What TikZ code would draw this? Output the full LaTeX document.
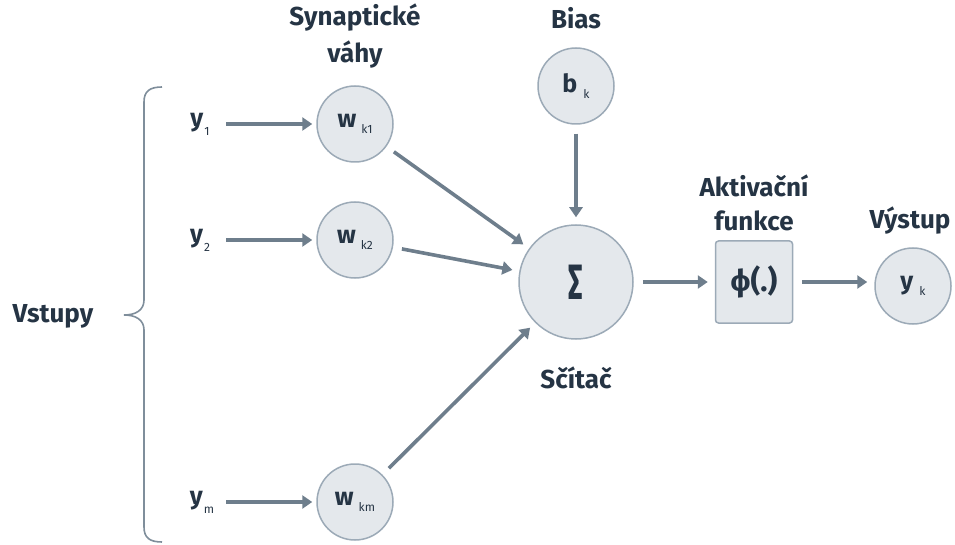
\documentclass[tikz,border=0pt]{standalone}
\usepackage{fontspec}
\usepackage{graphicx}
\setmainfont{Fira Sans}
\usetikzlibrary{arrows.meta}
\definecolor{ink}{HTML}{253444}
\definecolor{cellfill}{HTML}{E4E8EC}
\definecolor{cellline}{HTML}{9CAAB7}
\definecolor{wire}{HTML}{6E7E8C}
\definecolor{bracecol}{HTML}{7F8E9B}
% subscript next to a bold symbol: small, regular weight, lowered
\newcommand{\subtxt}[2]{\kern#1\lower6pt\hbox{\fontsize{12}{12}\selectfont\mdseries #2}}
\newcommand{\insub}[1]{\kern1pt\lower9pt\hbox{\fontsize{12}{12}\selectfont\mdseries #1}}
\tikzset{
  cell/.style={circle, draw=cellline, fill=cellfill, line width=1.5pt,
    minimum size=76pt, inner sep=0pt, text=ink, font=\fontsize{25}{25}\selectfont\bfseries},
  bigcell/.style={cell, minimum size=114pt, font=\fontsize{46}{46}\selectfont\bfseries},
  actbox/.style={draw=cellline, fill=cellfill, line width=1.5pt, rounded corners=3pt,
    minimum width=77pt, minimum height=82pt, inner sep=0pt, text=ink,
    font=\fontsize{30}{30}\selectfont\bfseries},
  caption/.style={text=ink, font=\fontsize{26}{30}\selectfont\bfseries, inner sep=0pt},
  invar/.style={text=ink, font=\fontsize{25}{25}\selectfont\bfseries, inner sep=0pt},
  link/.style={draw=wire, line width=3.6pt, shorten <=9pt, shorten >=7pt,
    -{Triangle[length=10pt,width=13pt]}},
  inlink/.style={link, shorten <=0pt, shorten >=4pt},
}
\begin{document}
\begin{tikzpicture}[x=1pt,y=-1pt]
\useasboundingbox (0,0) rectangle (955,545);

% weights, bias, summation, activation, output
\node[cell] (w1) at (355,124) {w\subtxt{5pt}{k1}};
\node[cell] (w2) at (355,240) {w\subtxt{5pt}{k2}};
\node[cell] (wm) at (355,502) {w\subtxt{5pt}{km}};
\node[cell] (b) at (576,86) {b\subtxt{6pt}{k}};
\node[bigcell] (sum) at (576,282) {\raisebox{-2pt}{\scalebox{0.62}[1.08]{Σ}}};
\node[actbox] (phi) at (754,282) {ϕ(.)};
\node[cell] (y) at (913,286) {y\subtxt{6pt}{k}};

% inputs
\node[invar] (x1) at (200,124) {y\insub{1}};
\node[invar] (x2) at (200,240) {y\insub{2}};
\node[invar] (xm) at (202,502) {y\insub{m}};

% captions
\node[caption] (c1) at (355,18) {Synaptické};
\node[caption] (c2) at (355,55) {váhy};
\node[caption] (c3) at (576,18) {Bias};
\node[caption] (c4) at (754,186) {Aktivační};
\node[caption] (c5) at (754,221) {funkce};
\node[caption] (c6) at (910,221) {Výstup};
\node[caption] (c7) at (576,378) {Sčítač};
\node[caption] (c8) at (53,316) {Vstupy};

% curly brace grouping the inputs
\coordinate (bt) at (162,87);
\coordinate (tip) at (124,315);
\coordinate (bb) at (162,542);
\draw[bracecol, line width=1.6pt]
  (bt) .. controls (150,87) and (144,91) .. (144,102) -- (144,300)
  .. controls (144,310) and (136,315) .. (tip)
  .. controls (136,315) and (144,320) .. (144,330) -- (144,527)
  .. controls (144,538) and (150,542) .. (bb);

% connectors
\draw[inlink] (x1.center) ++(26pt,0) -- (w1);
\draw[inlink] (x2.center) ++(26pt,0) -- (w2);
\draw[inlink] (xm.center) ++(24pt,0) -- (wm);
\draw[link] (w1) -- (sum);
\draw[link] (w2) -- (sum);
\draw[link] (wm) -- (sum);
\draw[link] (b) -- (sum);
\draw[link] (sum) -- (phi);
\draw[link] (phi) -- (phi -| y.west);
\end{tikzpicture}
\end{document}
